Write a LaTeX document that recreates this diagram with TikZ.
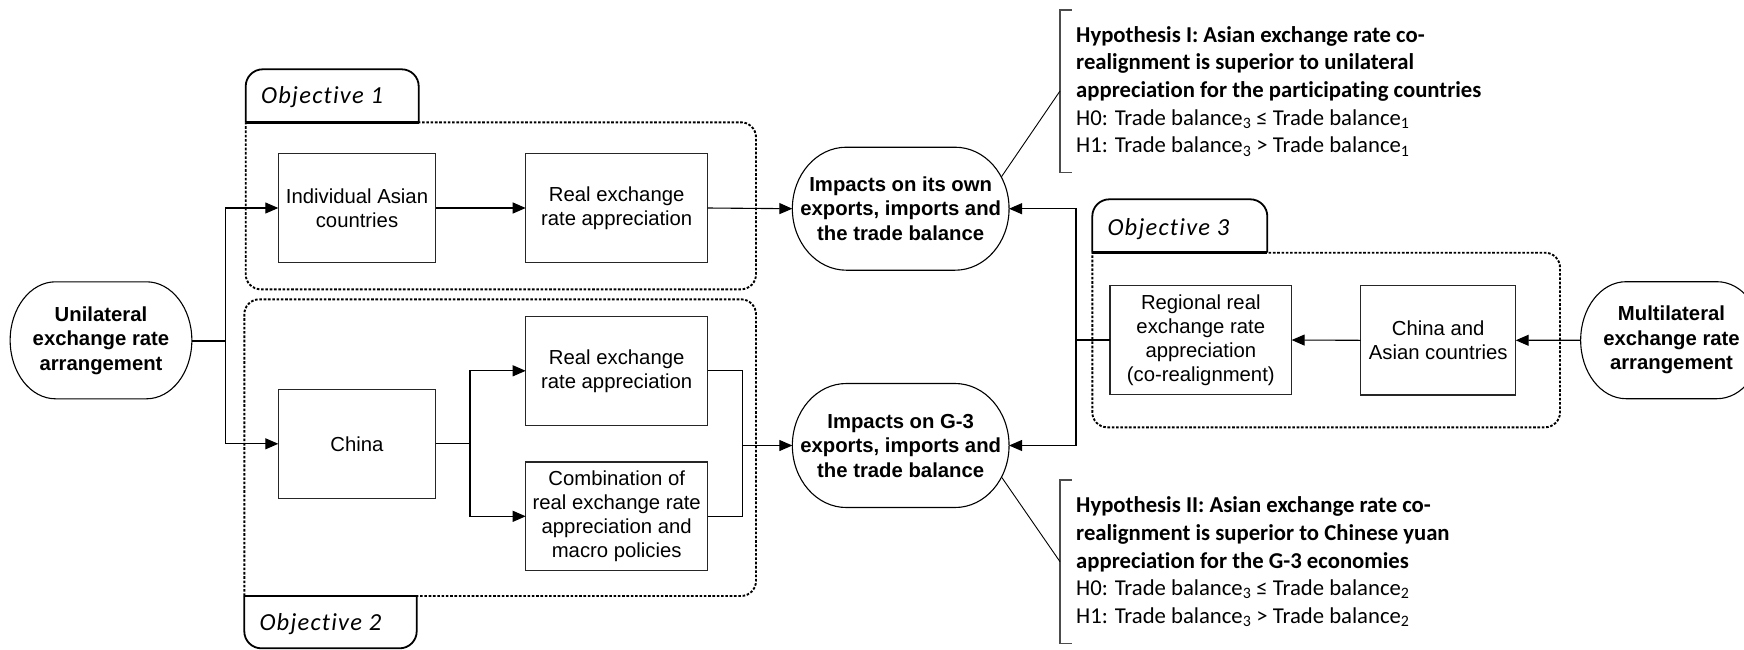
\documentclass[tikz,border=0pt]{standalone}
\usepackage{fontspec}
\setmainfont{Liberation Sans}
\newfontfamily\hypfont[RawFeature=-liga]{Carlito}
\newfontfamily\objfont[LetterSpace=5,RawFeature=-liga]{Carlito}
\usetikzlibrary{arrows.meta}

% outline of a terminal node: flat top and bottom, half-ellipse ends
\newcommand{\pilloutline}[3]{%
  \draw[pillline] ([xshift=#2]#1.north west) -- ([xshift=-#2]#1.north east)
    arc[start angle=90,end angle=-90,x radius=#2,y radius=#3]
    -- ([xshift=#2]#1.south west)
    arc[start angle=270,end angle=90,x radius=#2,y radius=#3] -- cycle;}

\begin{document}
\begin{tikzpicture}[x=1pt,y=-1pt,
  box/.style={draw=black!85, line width=1.1pt, inner sep=0pt, outer sep=0pt,
    align=center, font=\fontsize{20.3}{24}\selectfont},
  pill/.style={draw=none, inner sep=0pt, outer sep=0pt, align=center,
    font=\fontsize{20.3}{24.5}\selectfont\bfseries},
  pillline/.style={line width=1.1pt, draw=black},
  link/.style={line width=1.1pt, draw=black},
  arr/.style={link, -{Triangle[length=13pt,width=11pt]}},
  group/.style={line width=1.9pt, dash pattern=on 2.6pt off 1.7pt, rounded corners=15pt},
  tab/.style={line width=1.8pt, rounded corners=17pt},
  tabbase/.style={line width=2.6pt},
  objlabel/.style={anchor=base west, inner sep=0pt,
    font=\objfont\itshape\fontsize{24.5}{28}\selectfont},
  hyp/.style={anchor=west, inner sep=0pt, align=left,
    font=\hypfont\fontsize{22.7}{27.7}\selectfont},
  bracket/.style={line width=1.1pt, draw=black!70},
  lead/.style={line width=0.9pt, draw=black}
]
\useasboundingbox (0,0) rectangle (1744,649);
\clip (0,0) rectangle (1744,649);

% ---- objective groups (dotted frames) ----
\draw[group] (245.7,122.3) -- (756,122.3) -- (756,289.3) -- (245.7,289.3) -- (245.7,122.3);
\draw[group] (244.3,596) -- (244.3,299.3) -- (756,299.3) -- (756,596) -- (244.3,596);
\draw[group] (1092.3,252.7) -- (1560,252.7) -- (1560,427.3) -- (1092.3,427.3) -- (1092.3,252.7);

% ---- tabs ----
\draw[tab] (245.7,122.3) -- (245.7,69.3) -- (418.7,69.3) -- (418.7,122.3);
\draw[tabbase] (245.7,122.3) -- (418.7,122.3);
\node[objlabel] (obj1) at (261,103) {Objective 1};

\draw[tab] (244.3,596) -- (244.3,648.3) -- (416.7,648.3) -- (416.7,596);
\draw[tabbase] (244.3,596) -- (416.7,596);
\node[objlabel] (obj2) at (259.3,630) {Objective 2};

\draw[tab] (1092.3,252.7) -- (1092.3,199.3) -- (1267.3,199.3) -- (1267.3,252.7);
\draw[tabbase] (1092.3,252.7) -- (1267.3,252.7);
\node[objlabel] (obj3) at (1107.3,235) {Objective 3};

% ---- terminal nodes ----
\node[pill, minimum width=181.7pt, minimum height=117pt] (uni) at (101,340.3)
  {Unilateral\\exchange rate\\arrangement};
\pilloutline{uni}{45.4pt}{58.5pt}
\node[pill, minimum width=181.7pt, minimum height=117pt] (mul) at (1671.5,340.2)
  {Multilateral\\exchange rate\\arrangement};
\pilloutline{mul}{45.4pt}{58.5pt}
\node[pill, minimum width=216.7pt, minimum height=123pt] (imp1) at (900.7,208.7)
  {Impacts on its own\\exports, imports and\\the trade balance};
\pilloutline{imp1}{54pt}{61.5pt}
\node[pill, minimum width=216.7pt, minimum height=124pt] (imp2) at (900.7,445.5)
  {Impacts on G-3\\exports, imports and\\the trade balance};
\pilloutline{imp2}{54pt}{62pt}

% ---- process boxes ----
\node[box, minimum width=157.4pt, minimum height=108.6pt] (ind) at (357,208)
  {Individual Asian\\countries};
\node[box, minimum width=182pt, minimum height=108.6pt] (rea1) at (616.7,208)
  {Real exchange\\rate appreciation};
\node[box, minimum width=157.4pt, minimum height=109pt] (china) at (357,443.8)
  {China};
\node[box, minimum width=182pt, minimum height=109pt] (rea2) at (616.7,370.8)
  {Real exchange\\rate appreciation};
\node[box, minimum width=182pt, minimum height=108.7pt] (comb) at (616.7,516.3)
  {Combination of\\real exchange rate\\appreciation and\\macro policies};
\node[box, minimum width=181.7pt, minimum height=108.6pt] (reg) at (1200.8,340)
  {Regional real\\exchange rate\\appreciation\\(co-realignment)};
\node[box, minimum width=155pt, minimum height=109.3pt] (cha) at (1438.2,340.3)
  {China and\\Asian countries};

% ---- connectors ----
\coordinate (split1) at (225.3,341);
\draw[link] (uni.east |- split1) -- (split1);
\draw[arr] (split1) |- (ind.west);
\draw[arr] (split1) |- (china.west);
\draw[arr] (ind) -- (rea1);
\draw[arr] (rea1.east) -- (imp1.west);

\coordinate (split2) at (470,443.8);
\draw[link] (china.east) -- (split2);
\draw[arr] (split2) |- (rea2.west);
\draw[arr] (split2) |- (comb.west);
\coordinate (merge) at (742.3,445.5);
\draw[link] (rea2.east) -| (merge) |- (comb.east);
\draw[arr] (merge) -- (imp2.west);

\draw[arr] (mul.west) -- (cha.east);
\draw[arr] (cha.west) -- (reg.east);
\coordinate (split3) at (1076,340);
\draw[link] (reg.west) -- (split3);
\draw[arr] (split3) |- (imp1.east);
\draw[arr] (split3) |- (imp2.east);

% ---- hypotheses ----
\draw[bracket] (1071.7,10) -- (1060,10) -- (1060,172.3) -- (1071.7,172.3);
\coordinate (b1) at (1060,91);
\node[hyp] (hyp1) at (1076,91.2)
  {\textbf{Hypothesis I: Asian exchange rate co-}\\
   \textbf{realignment is superior to unilateral}\\
   \textbf{appreciation for the participating countries}\\
   H0: Trade balance\textsubscript{3} ≤ Trade balance\textsubscript{1}\\
   H1: Trade balance\textsubscript{3} > Trade balance\textsubscript{1}};
\coordinate (a1) at (1001.5,176.7);
\draw[lead] (a1) -- (b1);

\draw[bracket] (1071.7,480) -- (1060,480) -- (1060,643.3) -- (1071.7,643.3);
\coordinate (b2) at (1060,561.7);
\node[hyp] (hyp2) at (1076,561.7)
  {\textbf{Hypothesis II: Asian exchange rate co-}\\
   \textbf{realignment is superior to Chinese yuan}\\
   \textbf{appreciation for the G-3 economies}\\
   H0: Trade balance\textsubscript{3} ≤ Trade balance\textsubscript{2}\\
   H1: Trade balance\textsubscript{3} > Trade balance\textsubscript{2}};
\coordinate (a2) at (1001.5,477);
\draw[lead] (a2) -- (b2);
\end{tikzpicture}
\end{document}
